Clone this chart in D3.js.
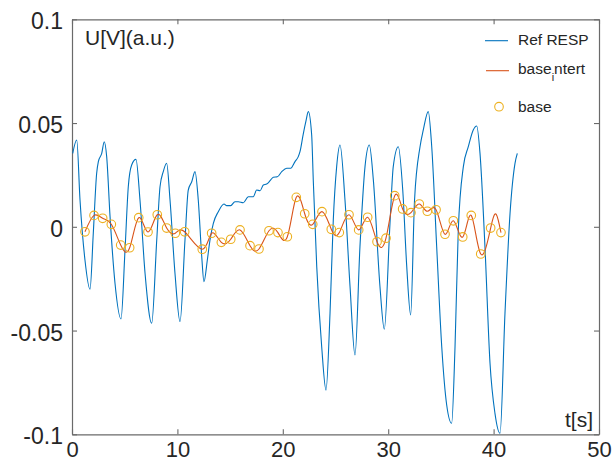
<!DOCTYPE html>
<html>
<head>
<meta charset="utf-8">
<script src="https://cdn.jsdelivr.net/npm/d3@7"></script>
<style>
  html, body { margin: 0; padding: 0; background: #fff; }
  svg { display: block; font-family: "Liberation Sans", Arial, Helvetica, sans-serif; }
</style>
</head>
<body>
<svg id="chart" width="615" height="462"></svg>
<script>
// Reference respiration signal (time in s, amplitude in a.u.)
const refT = [0.07,0.45,0.76,1.23,1.71,2.02,2.34,2.50,2.82,3.06,3.29,3.61,4.08,4.65,5.03,5.34,5.66,6.07,6.45,6.93,
  7.56,8.04,8.35,8.66,8.98,9.30,9.77,10.25,10.72,11.03,11.36,11.67,11.98,12.31,12.52,12.84,13.09,13.41,13.88,14.42,
  14.68,15.06,15.46,15.78,16.25,16.73,17.20,17.52,17.84,18.15,18.47,18.79,19.10,19.48,19.90,20.37,20.75,21.16,21.47,21.63,
  21.94,22.20,22.42,22.74,22.89,23.22,23.69,24.10,24.48,24.79,25.11,25.43,25.90,26.38,26.85,27.32,27.80,28.21,28.59,29.22,
  29.63,30.17,30.48,30.96,31.38,31.76,32.13,32.50,33.02,33.33,33.80,34.13,34.60,35.08,35.55,36.02,36.34,36.65,37.13,37.60,
  38.07,38.40,38.71,39.18,39.66,40.13,40.61,41.08,41.56,42.03,42.25];
const refV = [0.0354,0.0418,0.0129,-0.0160,-0.0301,-0.0031,0.0258,0.0314,0.0354,0.0410,0.0338,0.0049,-0.0272,-0.0444,-0.0112,0.0193,0.0298,0.0325,0.0129,-0.0224,
  -0.0465,-0.0064,0.0193,0.0266,0.0306,0.0129,-0.0224,-0.0457,-0.0064,0.0177,0.0217,0.0266,0.0129,-0.0144,-0.0265,-0.0160,-0.0064,0.0017,0.0073,0.0110,
  0.0102,0.0102,0.0121,0.0121,0.0116,0.0145,0.0145,0.0177,0.0174,0.0201,0.0206,0.0222,0.0239,0.0241,0.0266,0.0282,0.0282,0.0314,0.0338,0.0362,
  0.0447,0.0510,0.0555,0.0442,0.0226,-0.0192,-0.0578,-0.0787,-0.0417,0.0033,0.0290,0.0394,0.0129,-0.0289,-0.0618,-0.0096,0.0290,0.0394,0.0226,-0.0289,
  -0.0494,0.0017,0.0290,0.0386,0.0177,-0.0192,-0.0425,0.0129,0.0386,0.0467,0.0555,0.0386,-0.0096,-0.0578,-0.0859,-0.0947,-0.0578,-0.0015,0.0290,0.0386,
  0.0467,0.0486,0.0354,-0.0096,-0.0658,-0.0899,-0.0995,-0.0417,0.0065,0.0306,0.0354];

// Sampled baseline points
const baseT = [1.23,2.09,2.91,3.73,4.62,5.47,6.33,7.21,8.09,8.98,9.80,10.69,12.36,13.25,14.17,15.06,15.94,16.89,17.74,18.69,
  19.54,20.43,21.28,22.08,22.84,23.72,24.60,25.36,26.28,27.20,28.05,28.94,29.79,30.62,31.37,32.16,32.95,33.71,34.54,35.39,
  36.18,37.07,37.88,38.78,39.72,40.70];
const baseV = [-0.0024,0.0055,0.0041,0.0012,-0.0088,-0.0101,0.0044,-0.0025,0.0058,-0.0006,-0.0031,-0.0024,-0.0108,-0.0031,-0.0075,-0.0060,-0.0015,-0.0091,-0.0107,-0.0019,
  -0.0028,-0.0048,0.0142,0.0063,0.0012,0.0073,-0.0012,-0.0028,0.0058,-0.0015,0.0046,-0.0072,-0.0055,0.0150,0.0086,0.0068,0.0110,0.0075,0.0082,-0.0036,
  0.0029,-0.0049,0.0055,-0.0131,-0.0006,-0.0028];

// Knots of the interpolated baseline curve
const interpT = [1.23,2.09,2.91,3.73,4.62,5.47,6.33,7.21,8.09,8.98,9.80,10.69,12.36,13.25,14.17,15.06,15.94,16.89,17.74,18.69,
  19.54,20.43,21.28,22.08,22.84,23.72,24.60,25.36,26.28,27.20,28.05,28.94,29.79,30.62,31.37,32.16,32.95,33.71,34.54,35.39,
  36.18,37.07,37.88,38.78,39.72,40.25,40.70];
const interpV = [-0.0024,0.0055,0.0041,0.0012,-0.0088,-0.0101,0.0044,-0.0025,0.0058,-0.0006,-0.0031,-0.0024,-0.0108,-0.0031,-0.0075,-0.0060,-0.0015,-0.0091,-0.0107,-0.0019,
  -0.0028,-0.0048,0.0142,0.0063,0.0012,0.0073,-0.0012,-0.0028,0.0058,-0.0015,0.0046,-0.0072,-0.0055,0.0150,0.0086,0.0068,0.0110,0.0075,0.0082,-0.0036,
  0.0029,-0.0049,0.0055,-0.0131,-0.0006,0.0060,-0.0028];

const xTicks = [0, 10, 20, 30, 40, 50];
const xTickLabels = ["0", "10", "20", "30", "40", "50"];
const yTicks = [-0.1, -0.05, 0, 0.05, 0.1];
const yTickLabels = ["-0.1", "-0.05", "0", "0.05", "0.1"];
const legendNames = ["Ref RESP", "base_intert", "base"];

const colors = { ref: "#0072BD", interp: "#D95319", base: "#EDB120", axis: "#6a6a6a", text: "#262626" };

const svg = d3.select("#chart");
const x = d3.scaleLinear().domain([0, 50]).range([72, 599]);
const y = d3.scaleLinear().domain([-0.1, 0.1]).range([434.3, 19.3]);

// Axes: inward ticks on all four sides, labels on bottom and left
function styleAxis(g, fontSize) {
  g.attr("font-family", null).attr("font-size", fontSize);
  g.select(".domain").attr("stroke", colors.axis).attr("stroke-width", 1.2);
  g.selectAll(".tick line").attr("stroke", colors.axis).attr("stroke-width", 1.1);
  g.selectAll(".tick text").attr("fill", colors.text);
}

svg.append("g")
  .attr("transform", `translate(0,${y(-0.1)})`)
  .call(d3.axisBottom(x).tickValues(xTicks).tickFormat((d, i) => xTickLabels[i])
    .tickSizeInner(-5).tickSizeOuter(0).tickPadding(7))
  .call(g => styleAxis(g, 22));

svg.append("g")
  .attr("transform", `translate(${x(0)},0)`)
  .call(d3.axisLeft(y).tickValues(yTicks).tickFormat((d, i) => yTickLabels[i])
    .tickSizeInner(-5).tickSizeOuter(0).tickPadding(9))
  .call(g => styleAxis(g, 23))
  .call(g => g.selectAll(".tick text").attr("dy", "0.42em"));

svg.append("g")
  .attr("transform", `translate(0,${y(0.1)})`)
  .call(d3.axisTop(x).tickValues(xTicks).tickFormat("").tickSizeInner(-5).tickSizeOuter(0))
  .call(g => styleAxis(g, 10));

svg.append("g")
  .attr("transform", `translate(${x(50)},0)`)
  .call(d3.axisRight(y).tickValues(yTicks).tickFormat("").tickSizeInner(-5).tickSizeOuter(0))
  .call(g => styleAxis(g, 10));

// Series
const refData = refT.map((t, i) => [t, refV[i]]);
const interpData = interpT.map((t, i) => [t, interpV[i]]);
const baseData = baseT.map((t, i) => [t, baseV[i]]);

svg.append("path")
  .datum(refData)
  .attr("fill", "none")
  .attr("stroke", colors.ref)
  .attr("stroke-width", 1.1)
  .attr("d", d3.line().x(d => x(d[0])).y(d => y(d[1])).curve(d3.curveMonotoneX));

svg.append("path")
  .datum(interpData)
  .attr("fill", "none")
  .attr("stroke", colors.interp)
  .attr("stroke-width", 1.1)
  .attr("d", d3.line().x(d => x(d[0])).y(d => y(d[1])).curve(d3.curveNatural));

svg.append("g")
  .selectAll("circle")
  .data(baseData)
  .join("circle")
  .attr("cx", d => x(d[0]))
  .attr("cy", d => y(d[1]))
  .attr("r", 4.3)
  .attr("fill", "none")
  .attr("stroke", colors.base)
  .attr("stroke-width", 1.1);

// Axis captions
svg.append("text")
  .attr("x", 85).attr("y", 45)
  .attr("font-size", 21).attr("fill", colors.text)
  .text("U[V](a.u.)");

svg.append("text")
  .attr("x", 593).attr("y", 427)
  .attr("text-anchor", "end")
  .attr("font-size", 21).attr("fill", colors.text)
  .text("t[s]");

// Legend
const legend = svg.append("g").attr("font-size", 15.5).attr("fill", colors.text);
const rowY = [40.7, 70.7, 106.7];

legend.append("line")
  .attr("x1", 485).attr("x2", 508).attr("y1", rowY[0]).attr("y2", rowY[0])
  .attr("stroke", colors.ref).attr("stroke-width", 1.1);
legend.append("text").attr("x", 518).attr("y", 45.3).text(legendNames[0]);

legend.append("line")
  .attr("x1", 486).attr("x2", 509).attr("y1", rowY[1]).attr("y2", rowY[1])
  .attr("stroke", colors.interp).attr("stroke-width", 1.1);
// "base_intert" rendered with TeX-style subscript on the "i"
const parts = legendNames[1].split("_");
const t2 = legend.append("text").attr("x", 518).attr("y", 73.5);
t2.append("tspan").text(parts[0]);
t2.append("tspan").attr("font-size", 11).attr("dy", 7).text(parts[1].charAt(0));
t2.append("tspan").attr("dy", -7).text(parts[1].slice(1));

legend.append("circle")
  .attr("cx", 499).attr("cy", rowY[2]).attr("r", 4.3)
  .attr("fill", "none").attr("stroke", colors.base).attr("stroke-width", 1.1);
legend.append("text").attr("x", 518).attr("y", 111.7).text(legendNames[2]);
</script>
</body>
</html>
